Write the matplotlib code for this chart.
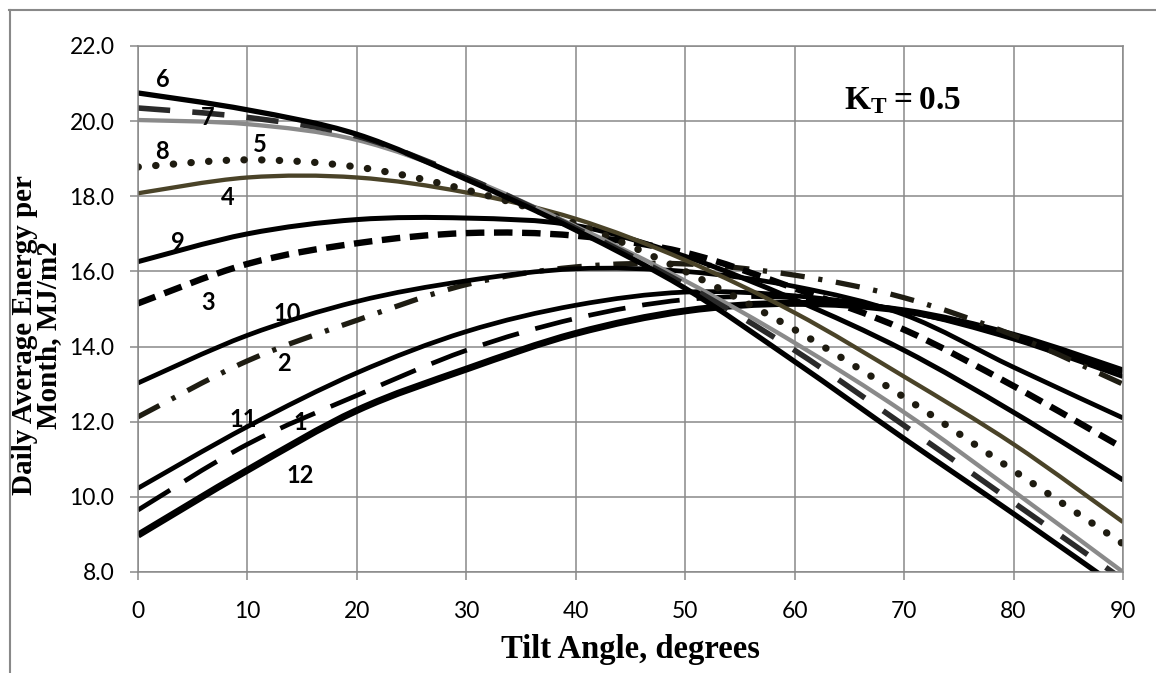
import numpy as np
import matplotlib
matplotlib.use('Agg')
import matplotlib.pyplot as plt
from matplotlib.path import Path
from matplotlib.patches import PathPatch
from matplotlib.lines import Line2D

# ---------------- data ----------------
tilt = [0, 10, 20, 30, 40, 50, 60, 70, 80, 90]
m1  = [9.65, 11.40, 12.70, 13.90, 14.75, 15.25, 15.30, 14.95, 14.25, 13.30]
m2  = [12.13, 13.62, 14.70, 15.65, 16.12, 16.20, 15.90, 15.30, 14.30, 13.00]
m3  = [15.15, 16.20, 16.75, 17.02, 16.95, 16.50, 15.55, 14.45, 12.95, 11.30]
m4  = [18.08, 18.50, 18.50, 18.10, 17.40, 16.30, 14.90, 13.20, 11.40, 9.33]
m5  = [20.03, 19.92, 19.50, 18.50, 17.20, 15.75, 14.10, 12.25, 10.15, 8.00]
m6  = [20.75, 20.30, 19.65, 18.45, 17.10, 15.55, 13.60, 11.55, 9.55, 7.50]
m7  = [20.35, 20.10, 19.60, 18.50, 17.15, 15.65, 13.90, 11.90, 9.85, 7.80]
m8  = [18.78, 18.97, 18.78, 18.17, 17.27, 16.00, 14.45, 12.65, 10.70, 8.75]
m9  = [16.26, 17.00, 17.38, 17.42, 17.22, 16.40, 15.25, 13.90, 12.25, 10.45]
m10 = [13.03, 14.30, 15.20, 15.75, 16.07, 16.00, 15.60, 14.85, 13.45, 12.10]
m11 = [10.23, 11.87, 13.30, 14.40, 15.10, 15.45, 15.35, 14.95, 14.20, 13.20]
m12 = [8.98, 10.71, 12.30, 13.40, 14.35, 14.95, 15.15, 14.95, 14.30, 13.35]

month_names = ['1', '2', '3', '4', '5', '6', '7', '8', '9', '10', '11', '12']
series = [m1, m2, m3, m4, m5, m6, m7, m8, m9, m10, m11, m12]

# month label anchor positions (tilt, value)
label_x = [14.8, 13.3, 6.4, 8.2, 11.1, 2.3, 6.4, 2.2, 3.6, 13.6, 9.6, 14.8]
label_y = [11.97, 13.56, 15.16, 17.98, 19.37, 21.10, 20.11, 19.18, 16.76, 14.89, 12.05, 10.58]

x_ticks = [0, 10, 20, 30, 40, 50, 60, 70, 80, 90]
y_ticks = [8.0, 10.0, 12.0, 14.0, 16.0, 18.0, 20.0, 22.0]

# ---------------- styles ----------------
BLACK = '#000000'
styles = {
    '1':  dict(color=BLACK, lw=3.4, ls=(0, (8.0, 3.6)), cap='butt'),
    '2':  dict(color='#1e1c12', lw=3.8, ls=(0, (4.6, 2.6, 0.8, 2.6)), cap='butt'),
    '3':  dict(color=BLACK, lw=4.6, ls=(0, (2.9, 1.5)), cap='butt'),
    '4':  dict(color='#4a4328', lw=3.1, ls='-', cap='butt'),
    '5':  dict(color='#8a8a8a', lw=3.1, ls='-', cap='butt'),
    '6':  dict(color=BLACK, lw=3.8, ls='-', cap='butt'),
    '7':  dict(color='#2a2a2a', lw=4.0, ls=(0, (5.8, 4.0)), cap='butt'),
    '8':  dict(color='#1e1b10', lw=5.2, ls=(0, (0.05, 2.4)), cap='round'),
    '9':  dict(color=BLACK, lw=3.6, ls='-', cap='butt'),
    '10': dict(color=BLACK, lw=3.4, ls='-', cap='butt'),
    '11': dict(color=BLACK, lw=3.4, ls='-', cap='butt'),
    '12': dict(color=BLACK, lw=5.0, ls='-', cap='butt'),
}


def smooth_path(xs, ys):
    """Excel-style smoothed line: cubic Bezier segments through the data points."""
    pts = np.column_stack([xs, ys]).astype(float)
    n = len(pts)
    verts = [pts[0]]
    codes = [Path.MOVETO]
    for i in range(n - 1):
        p0 = pts[i - 1] if i > 0 else pts[i]
        p1 = pts[i]
        p2 = pts[i + 1]
        p3 = pts[i + 2] if i + 2 < n else pts[i + 1]
        c1 = p1 + (p2 - p0) / 6.0
        c2 = p2 - (p3 - p1) / 6.0
        verts += [c1, c2, p2]
        codes += [Path.CURVE4] * 3
    return Path(verts, codes)


GRID = '#898989'
W, H = 1156, 673
fig = plt.figure(figsize=(W / 100, H / 100), dpi=100)
fig.patch.set_facecolor('white')

x0, x1, yb, yt = 138, 1123, 572, 46
ax = fig.add_axes([x0 / W, 1 - yb / H, (x1 - x0) / W, (yb - yt) / H])
ax.set_xlim(0, 90)
ax.set_ylim(8, 22)
ax.set_xticks(x_ticks)
ax.set_yticks(y_ticks)
ax.set_xticklabels([str(v) for v in x_ticks])
ax.set_yticklabels([f'{v:.1f}' for v in y_ticks])
ax.grid(True, color=GRID, lw=1.1)
ax.set_axisbelow(True)
for s in ax.spines.values():
    s.set_color(GRID)
    s.set_linewidth(1.1)
ax.tick_params(axis='both', direction='out', length=6, width=1.1, color=GRID,
               labelsize=16.5, labelcolor='black')
ax.tick_params(axis='x', pad=15)
ax.tick_params(axis='y', pad=11)
for lab in ax.get_xticklabels() + ax.get_yticklabels():
    lab.set_fontfamily('Lato')

order = ['12', '1', '11', '2', '10', '3', '9', '4', '8', '5', '7', '6']
for name in order:
    i = month_names.index(name)
    st = styles[name]
    patch = PathPatch(smooth_path(tilt, series[i]), fill=False,
                      edgecolor=st['color'], lw=st['lw'], linestyle=st['ls'])
    patch.set_capstyle(st['cap'])
    ax.add_patch(patch)

for i, name in enumerate(month_names):
    ax.text(label_x[i], label_y[i], name, fontsize=17, fontweight='bold',
            family='Lato', ha='center', va='center', color='black')

plt.rcParams['mathtext.fontset'] = 'custom'
plt.rcParams['mathtext.bf'] = 'Liberation Serif:bold'
plt.rcParams['mathtext.rm'] = 'Liberation Serif'
ax.text(69.9, 20.56, r'$\mathbf{K_T = 0.5}$', fontsize=24, ha='center', va='center')

ax.set_xlabel('Tilt Angle, degrees', family='Liberation Serif', fontweight='bold',
              fontsize=23.5)
ax.xaxis.set_label_coords(0.5, -0.117)
ax.set_ylabel('Daily Average Energy per\nMonth, MJ/m2', family='Liberation Serif',
              fontweight='bold', fontsize=21, linespacing=0.88)
ax.yaxis.set_label_coords(-0.077, 0.45)

# outer chart frame (top and left edges)
fig.add_artist(Line2D([9 / W, 1.0], [1 - 9.5 / H, 1 - 9.5 / H], color=GRID, lw=1.5,
                      transform=fig.transFigure))
fig.add_artist(Line2D([9.5 / W, 9.5 / W], [0.0, 1 - 9.5 / H], color=GRID, lw=1.5,
                      transform=fig.transFigure))

fig.savefig('out.png', dpi=100, facecolor='white')
